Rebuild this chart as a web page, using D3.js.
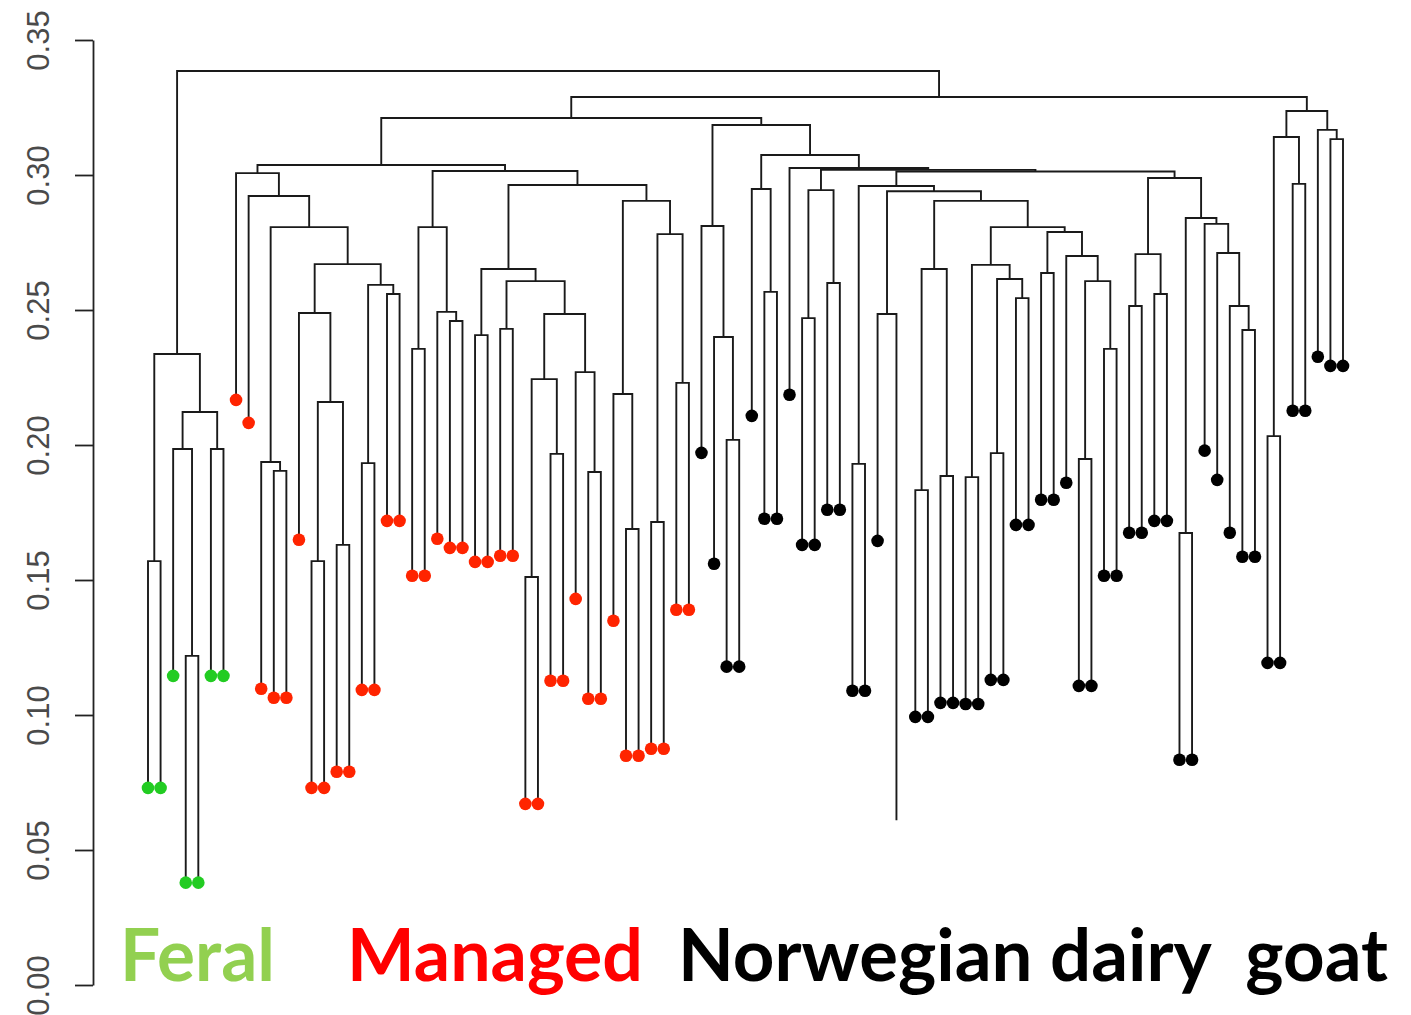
<!DOCTYPE html>
<html lang="en">
<head>
    <meta charset="UTF-8">
    <title>Goat dendrogram</title>
    <style>
        body { margin: 0; background: #fff; }
        svg { display: block; }
        .axis text { font-family: "Liberation Sans", Arial, sans-serif; font-size: 31px; fill: #4a4a4a; }
        .axis path, .axis line { stroke: #222; stroke-width: 1.8; }
        .group-label { font-family: Lato, "Open Sans", sans-serif; font-weight: 700; white-space: pre; }
    </style>
</head>
<body>
    <div id="graphic"></div>

    <script src="https://cdn.jsdelivr.net/npm/d3@7"></script>
    <script>
        var width = 1411;
        var height = 1015;

        // dendrogram: a node is [mergeHeight, left, right], a leaf is its group code
        // F = feral, M = managed, N = Norwegian dairy, "-" = leaf not shown
        var hang = 0.084;          // leaves hang this far below their merge
        var yTicks = [0, 0.05, 0.10, 0.15, 0.20, 0.25, 0.30, 0.35];

        var feralTree = [0.2337,
            [0.157, "F", "F"],
            [0.2122, [0.1985, "F", [0.1219, "F", "F"]], [0.1985, "F", "F"]]];

        var managedTree = [0.3037,
            [0.3007, "M", [0.2922, "M", [0.2807,
                [0.1937, "M", [0.1904, "M", "M"]],
                [0.2670,
                    [0.2489, "M", [0.2159, [0.157, "M", "M"], [0.163, "M", "M"]]],
                    [0.2593, [0.1933, "M", "M"], [0.2559, "M", "M"]]]]]],
            [0.3015,
                [0.2807, [0.2356, "M", "M"], [0.2493, "M", [0.2459, "M", "M"]]],
                [0.2963,
                    [0.2652, [0.2407, "M", "M"],
                        [0.2607, [0.2430, "M", "M"],
                            [0.2485, [0.2244, [0.1511, "M", "M"], [0.1967, "M", "M"]],
                                     [0.2270, "M", [0.1900, "M", "M"]]]]],
                    [0.2904, [0.2189, "M", [0.1689, "M", "M"]],
                             [0.2781, [0.1715, "M", "M"], [0.2230, "M", "M"]]]]]];

        var dairyLeft = [0.2811, "N", [0.2400, "N", [0.2019, "N", "N"]]];
        var dairyMidA = [0.2959, [0.1930, "N", "N"],
            [0.2940, [0.2485, "N", [0.061, "-", "-"]],
                [0.2904, [0.2652, [0.1833, "N", "N"], [0.1885, "N", "N"]],
                    [0.2807,
                        [0.2667, [0.1881, "N", "N"], [0.2615, [0.1970, "N", "N"], [0.2544, "N", "N"]]],
                        [0.2789, [0.2637, "N", "N"],
                            [0.2700, "N", [0.2607, [0.1948, "N", "N"], [0.2356, "N", "N"]]]]]]]];
        var dairyMidB = [0.2989,
            [0.2707, [0.2515, "N", "N"], [0.2559, "N", "N"]],
            [0.2841, [0.1674, "N", "N"],
                [0.2819, "N", [0.2711, "N", [0.2515, "N", [0.2426, "N", "N"]]]]]];
        var dairyTree = [0.3185, dairyLeft,
            [0.3074, [0.2948, "N", [0.2567, "N", "N"]],
                [0.3026, "N",
                    [0.3019, [0.2944, [0.2470, "N", "N"], [0.2600, "N", "N"]],
                        [0.3013, dairyMidA, dairyMidB]]]]];
        var dairyRight = [0.3237,
            [0.3141, [0.2033, "N", "N"], [0.2967, "N", "N"]],
            [0.3167, "N", [0.3133, "N", "N"]]];

        var topHeights = [0.3385, 0.3289, 0.3211];

        var groupNames = ["Feral", "Managed", "Norwegian dairy  goat"];
        var groupCodes = ["F", "M", "N"];
        var dotColors = ["#22cc22", "#ff2400", "#000000"];
        var labelColors = ["#92d050", "#ff0000", "#000000"];

        var tree = [topHeights[0], feralTree,
            [topHeights[1], [topHeights[2], managedTree, dairyTree], dairyRight]];

        var svg = d3.select('#graphic')
            .append('svg')
            .attr('width', width)
            .attr('height', height);

        var root = d3.hierarchy(tree, function(d) {
            return Array.isArray(d) ? d.slice(1) : null;
        });
        var leaves = root.leaves();

        var x = d3.scaleLinear().domain([0, leaves.length - 1]).range([148, 1343]);
        var y = d3.scaleLinear().domain([0, 0.35]).range([985, 40]);
        var color = d3.scaleOrdinal().domain(groupCodes).range(dotColors);

        leaves.forEach(function(d, i) { d.px = x(i); });
        root.eachAfter(function(d) {
            if (d.children) {
                d.px = d3.mean(d.children, function(c) { return c.px; });
                d.h = d.data[0];
            }
        });
        root.each(function(d) {
            if (!d.children) d.h = d.parent.h - hang;
        });

        function hidden(d) {
            if (!d.children) return d.data === "-";
            return d.children.every(hidden);
        }

        // axis
        var axis = svg.append('g')
            .attr('class', 'axis')
            .attr('transform', 'translate(93,0)')
            .call(d3.axisLeft(y).tickValues(yTicks).tickFormat(d3.format('.2f')).tickSize(18).tickSizeOuter(0));
        axis.selectAll('.tick text')
            .attr('transform', 'rotate(-90)')
            .attr('x', 0)
            .attr('y', -55)
            .attr('dy', '0.35em')
            .attr('text-anchor', 'middle');

        // branches
        var nodes = root.descendants().filter(function(d) { return d.children && !hidden(d); });
        svg.append('g')
            .selectAll('path')
            .data(nodes)
            .join('path')
            .attr('fill', 'none')
            .attr('stroke', '#1a1a1a')
            .attr('stroke-width', 1.9)
            .attr('d', function(d) {
                var a = d.children[0], b = d.children[1];
                return 'M' + a.px + ',' + y(a.h) + 'V' + y(d.h) + 'H' + b.px + 'V' + y(b.h);
            });

        // leaf dots
        svg.append('g')
            .selectAll('circle')
            .data(leaves.filter(function(d) { return d.data !== "-"; }))
            .join('circle')
            .attr('cx', function(d) { return d.px; })
            .attr('cy', function(d) { return y(d.h); })
            .attr('r', 6.3)
            .attr('fill', function(d) { return color(d.data); });

        // group labels
        var labelX = [120, 347, 678];
        var labelW = [155, 296, 710];
        svg.append('g')
            .selectAll('text')
            .data(groupNames)
            .join('text')
            .attr('class', 'group-label')
            .attr('x', function(d, i) { return labelX[i]; })
            .attr('y', 981)
            .attr('font-size', 72)
            .attr('textLength', function(d, i) { return labelW[i]; })
            .attr('lengthAdjust', 'spacingAndGlyphs')
            .attr('fill', function(d, i) { return labelColors[i]; })
            .text(function(d) { return d; });
    </script>
</body>
</html>
